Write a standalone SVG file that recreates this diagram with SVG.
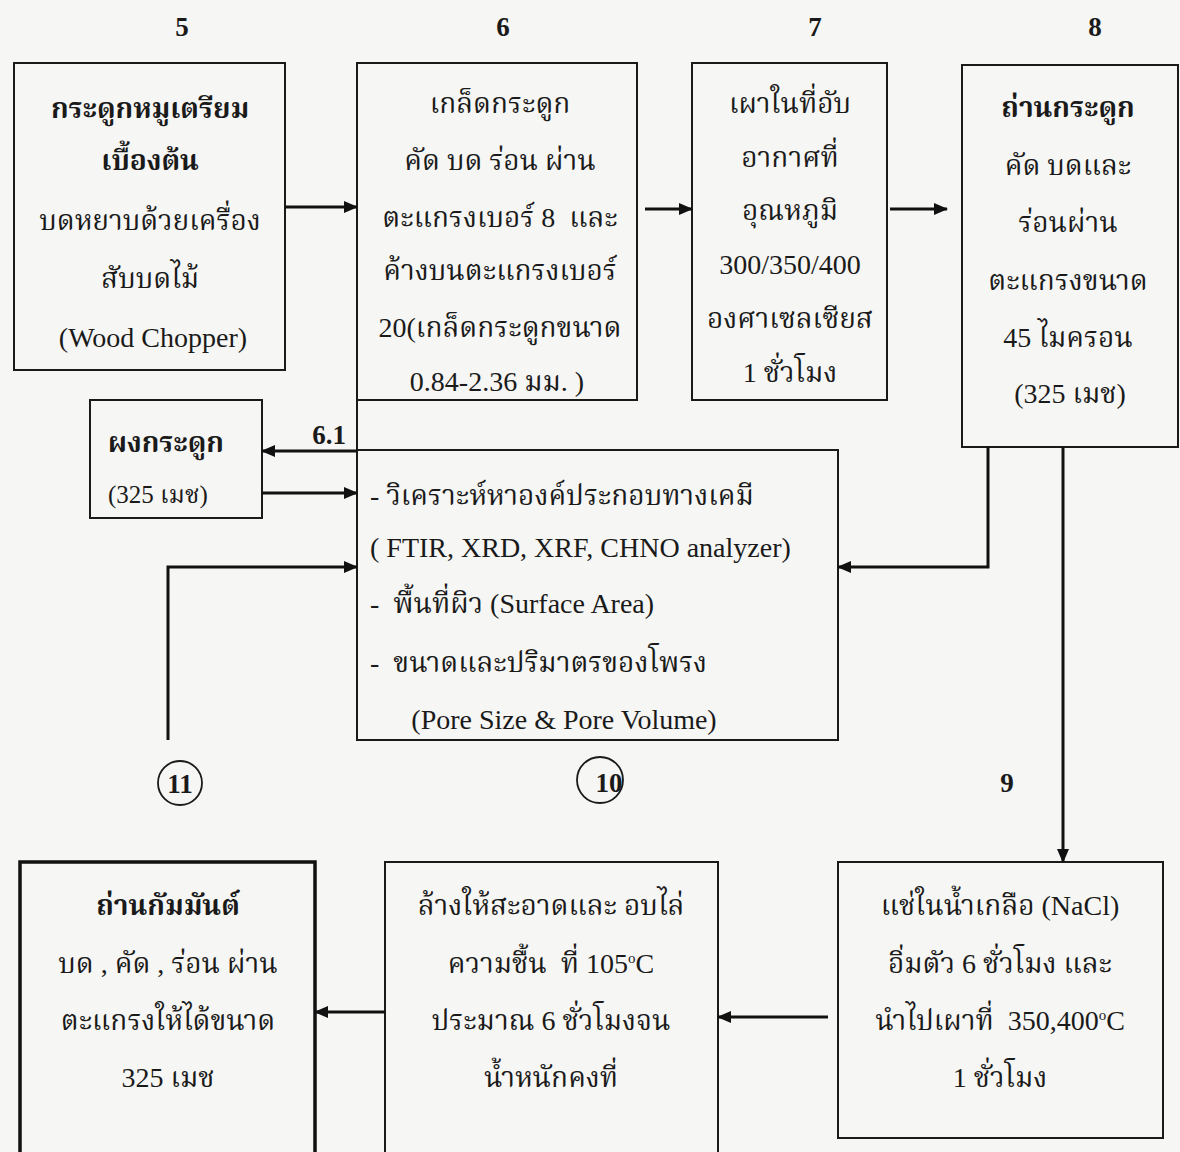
<svg xmlns="http://www.w3.org/2000/svg" width="1180" height="1152" viewBox="0 0 1180 1152">
<defs>
<marker id="ah" viewBox="0 0 14 12" refX="13" refY="6" markerWidth="14" markerHeight="12" markerUnits="userSpaceOnUse" orient="auto">
<path d="M0,0 L14,6 L0,12 z" fill="#111"/>
</marker>
</defs>
<style>
.bg{fill:#f6f6f4}
.box{fill:none;stroke:#1a1a1a;stroke-width:2}
.thick{fill:none;stroke:#111;stroke-width:3.5}
.t{font-family:"Liberation Serif","Noto Serif Thai","Noto Sans Thai",serif;font-size:28px;fill:#1a1a1a;text-anchor:middle}
.l{text-anchor:start}
.b{font-weight:bold}
.s{font-size:25px}
.num{font-family:"Liberation Serif",serif;font-weight:bold;font-size:27px;fill:#1a1a1a;text-anchor:middle}
.c{fill:none;stroke:#1a1a1a;stroke-width:1.8}
.con{fill:none;stroke:#111;stroke-width:3}
</style>
<rect class="bg" x="0" y="0" width="1180" height="1152"/>

<g id="labels">
<text class="num" x="182" y="36">5</text>
<text class="num" x="503" y="36">6</text>
<text class="num" x="815" y="36">7</text>
<text class="num" x="1095" y="36">8</text>
<text class="num" x="329" y="444">6.1</text>
<text class="num" x="1007" y="792">9</text>
</g>

<g id="n5">
<rect class="box" x="14" y="63" width="271" height="307"/>
<text class="t b" x="150" y="118">กระดูกหมูเตรียม</text>
<text class="t b" x="150" y="170">เบื้องต้น</text>
<text class="t" x="150" y="230">บดหยาบด้วยเครื่อง</text>
<text class="t" x="150" y="288">สับบดไม้</text>
<text class="t" x="153" y="347">(Wood Chopper)</text>
</g>

<g id="n6">
<rect class="box" x="357" y="63" width="280" height="337"/>
<text class="t" x="500" y="113">เกล็ดกระดูก</text>
<text class="t" x="500" y="170">คัด บด ร่อน ผ่าน</text>
<text class="t" x="500" y="227" xml:space="preserve">ตะแกรงเบอร์ 8  และ</text>
<text class="t" x="500" y="280">ค้างบนตะแกรงเบอร์</text>
<text class="t" x="500" y="337">20(เกล็ดกระดูกขนาด</text>
<text class="t" x="497" y="391">0.84-2.36 มม. )</text>
</g>

<g id="n7">
<rect class="box" x="692" y="63" width="195" height="337"/>
<text class="t" x="790" y="113">เผาในที่อับ</text>
<text class="t" x="790" y="167">อากาศที่</text>
<text class="t" x="790" y="220">อุณหภูมิ</text>
<text class="t" x="790" y="274">300/350/400</text>
<text class="t" x="790" y="328">องศาเซลเซียส</text>
<text class="t" x="790" y="382">1 ชั่วโมง</text>
</g>

<g id="n8">
<rect class="box" x="962" y="65" width="216" height="382"/>
<text class="t b" x="1068" y="117">ถ่านกระดูก</text>
<text class="t" x="1068" y="175">คัด บดและ</text>
<text class="t" x="1068" y="232">ร่อนผ่าน</text>
<text class="t" x="1068" y="290">ตะแกรงขนาด</text>
<text class="t" x="1068" y="347">45 ไมครอน</text>
<text class="t" x="1070" y="403">(325 เมช)</text>
</g>

<g id="n61">
<rect class="box" x="90" y="400" width="172" height="118"/>
<text class="t l b" x="108" y="452">ผงกระดูก</text>
<text class="t l s" x="108" y="503">(325 เมช)</text>
</g>

<g id="analysis">
<rect class="box" x="357" y="450" width="481" height="290"/>
<text class="t l" x="370" y="505">- วิเคราะห์หาองค์ประกอบทางเคมี</text>
<text class="t l" x="370" y="557">( FTIR, XRD, XRF, CHNO analyzer)</text>
<text class="t l" x="370" y="613" xml:space="preserve">-  พื้นที่ผิว (Surface Area)</text>
<text class="t l" x="370" y="672" xml:space="preserve">-  ขนาดและปริมาตรของโพรง</text>
<text class="t" x="564" y="729">(Pore Size &amp; Pore Volume)</text>
</g>

<g id="c11">
<circle class="c" cx="180" cy="783" r="22"/>
<text class="num" x="180" y="793">11</text>
</g>
<g id="c10">
<circle class="c" cx="600" cy="780" r="23"/>
<text class="num" x="609" y="792">10</text>
</g>

<g id="n9">
<rect class="box" x="838" y="862" width="325" height="276"/>
<text class="t" x="1000" y="915">แช่ในน้ำเกลือ (NaCl)</text>
<text class="t" x="1000" y="973">อิ่มตัว 6 ชั่วโมง และ</text>
<text class="t" x="1000" y="1030" xml:space="preserve">นำไปเผาที่  350,400<tspan dy="-10" font-size="15">o</tspan><tspan dy="10">C</tspan></text>
<text class="t" x="1000" y="1087">1 ชั่วโมง</text>
</g>

<g id="n10">
<rect class="box" x="385" y="862" width="333" height="300"/>
<text class="t" x="551" y="915">ล้างให้สะอาดและ อบไล่</text>
<text class="t" x="551" y="973" xml:space="preserve">ความชื้น  ที่ 105<tspan dy="-10" font-size="15">o</tspan><tspan dy="10">C</tspan></text>
<text class="t" x="551" y="1030">ประมาณ 6 ชั่วโมงจน</text>
<text class="t" x="551" y="1087">น้ำหนักคงที่</text>
</g>

<g id="n11">
<rect class="thick" x="20" y="862" width="295" height="300"/>
<text class="t b" x="168" y="915">ถ่านกัมมันต์</text>
<text class="t" x="168" y="973">บด , คัด , ร่อน ผ่าน</text>
<text class="t" x="168" y="1030">ตะแกรงให้ได้ขนาด</text>
<text class="t" x="168" y="1087">325 เมช</text>
</g>

<g id="connectors">
<path class="con" d="M285,207 H357" marker-end="url(#ah)"/>
<path class="con" d="M645,209 H692" marker-end="url(#ah)"/>
<path class="con" d="M890,209 H947" marker-end="url(#ah)"/>
<path class="box" d="M357,400 V450"/>
<path class="con" d="M357,451 H262" marker-end="url(#ah)"/>
<path class="con" d="M262,493 H357" marker-end="url(#ah)"/>
<path class="con" d="M168,740 V567 H357" marker-end="url(#ah)"/>
<path class="con" d="M988,447 V567 H838" marker-end="url(#ah)"/>
<path class="con" d="M1063,447 V862" marker-end="url(#ah)"/>
<path class="con" d="M828,1017 H718" marker-end="url(#ah)"/>
<path class="con" d="M385,1012 H315" marker-end="url(#ah)"/>
</g>
</svg>
